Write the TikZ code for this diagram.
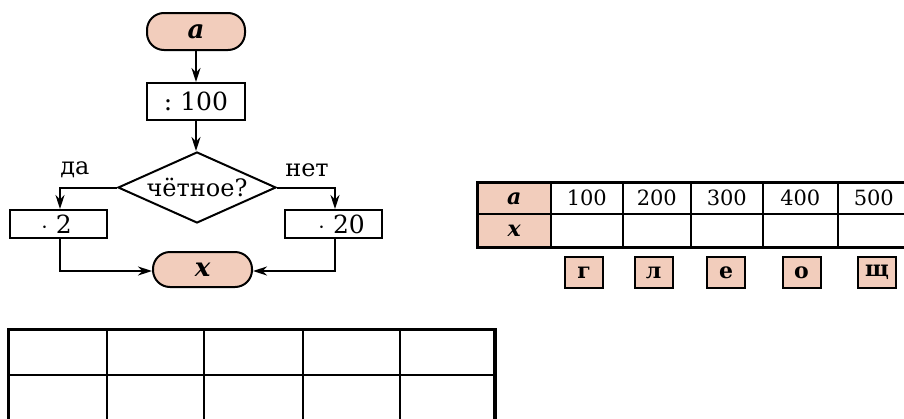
\documentclass[tikz,border=0pt]{standalone}
\usepackage{fontspec}
\setmainfont{DejaVu Serif}
\usetikzlibrary{shapes.geometric,arrows.meta}
\definecolor{pinkf}{HTML}{F2CDBC}
\tikzset{
  term/.style={draw, line width=2pt, fill=pinkf, rounded corners=17pt, inner sep=0pt, font=\fontsize{26}{28}\selectfont\bfseries\itshape},
  proc/.style={draw, line width=2pt, fill=white, inner sep=0pt, font=\fontsize{25}{28}\selectfont},
  dec/.style={draw, diamond, line width=2pt, inner sep=0pt, minimum width=158pt, minimum height=71pt, font=\fontsize{24}{26}\selectfont},
  lbl/.style={font=\fontsize{24}{26}\selectfont, inner sep=0pt},
  flow/.style={line width=2pt, -{Stealth[length=14pt,width=9pt]}},
  cell/.style={draw, line width=1.6pt, inner sep=0pt, anchor=north west, font=\fontsize{21}{22}\selectfont},
  hcell/.style={cell, fill=pinkf, font=\fontsize{22}{22}\selectfont\bfseries\itshape},
  letter/.style={draw, line width=2pt, fill=pinkf, inner sep=0pt, minimum width=38pt, minimum height=31pt, font=\fontsize{22}{22}\selectfont\bfseries},
  bcell/.style={draw, line width=2.2pt, inner sep=0pt, anchor=north west},
}
\begin{document}
\begin{tikzpicture}[x=1pt,y=-1pt]
\useasboundingbox (0,0) rectangle (904,418);
\clip (0,0) rectangle (904,418);
% flowchart
\node[term, minimum width=98pt, minimum height=37pt] (a) at (196,31.5) {a};
\node[proc, minimum width=98pt, minimum height=37pt] (div) at (196,101.5) {:~100};
\node[dec] (dec) at (197,187.5) {\makebox[0pt]{\raisebox{-9pt}[0pt][0pt]{чётное?}}};
\node[proc, minimum width=97pt, minimum height=28pt] (m2) at (58.5,224) {\hspace{-4pt}$\cdot$~2};
\node[proc, minimum width=97pt, minimum height=28pt] (m20) at (333.5,224) {\hspace{16pt}$\cdot$~20};
\node[term, minimum width=99pt, minimum height=35pt] (x) at (202.5,269.5) {x};
\node[lbl] (da) at (75,170) {да};
\node[lbl] (net) at (307,170) {нет};
\draw[flow] (a) -- (div);
\draw[flow] (div.south) -- (div.south |- dec.north);
\draw[flow] (dec.west) -| ([xshift=1.5pt]m2.north);
\draw[flow] (dec.east) -| ([xshift=1.5pt]m20.north);
\draw[flow] ([xshift=1.5pt]m2.south) |- ([yshift=-1.5pt]x.west);
\draw[flow] ([xshift=1.5pt]m20.south) |- ([yshift=-1.5pt]x.east);
% right table
\node[hcell, minimum width=73pt, minimum height=31pt] (ta) at (477,182) {a};
\node[hcell, minimum width=73pt, minimum height=33pt] (tx) at (477,213) {x};
\node[cell, minimum width=72pt, minimum height=31pt] (t1) at (550,182) {100};
\node[cell, minimum width=68pt, minimum height=31pt] (t2) at (622,182) {200};
\node[cell, minimum width=72pt, minimum height=31pt] (t3) at (690,182) {300};
\node[cell, minimum width=75pt, minimum height=31pt] (t4) at (762,182) {400};
\node[cell, minimum width=72pt, minimum height=31pt] (t5) at (837,182) {500};
\node[cell, minimum width=72pt, minimum height=33pt] (u1) at (550,213) {};
\node[cell, minimum width=68pt, minimum height=33pt] (u2) at (622,213) {};
\node[cell, minimum width=72pt, minimum height=33pt] (u3) at (690,213) {};
\node[cell, minimum width=75pt, minimum height=33pt] (u4) at (762,213) {};
\node[cell, minimum width=72pt, minimum height=33pt] (u5) at (837,213) {};
\draw[line width=2.6pt] (ta.north west) rectangle (u5.south east);
% letters
\node[letter] (lg) at (584,272.5) {г};
\node[letter] (ll) at (653.5,272.5) {л};
\node[letter] (le) at (726,272.5) {е};
\node[letter] (lo) at (801.5,272.5) {о};
\node[letter] (lsh) at (877,272.5) {щ};
% bottom table
\node[bcell, minimum width=98pt, minimum height=45pt] (b1) at (8,329) {};
\node[bcell, minimum width=97pt, minimum height=45pt] (b2) at (106,329) {};
\node[bcell, minimum width=99pt, minimum height=45pt] (b3) at (203,329) {};
\node[bcell, minimum width=97pt, minimum height=45pt] (b4) at (302,329) {};
\node[bcell, minimum width=94pt, minimum height=45pt] (b5) at (399,329) {};
\node[bcell, minimum width=98pt, minimum height=50pt] (c1) at (8,374) {};
\node[bcell, minimum width=97pt, minimum height=50pt] (c2) at (106,374) {};
\node[bcell, minimum width=99pt, minimum height=50pt] (c3) at (203,374) {};
\node[bcell, minimum width=97pt, minimum height=50pt] (c4) at (302,374) {};
\node[bcell, minimum width=94pt, minimum height=50pt] (c5) at (399,374) {};
\draw[line width=3pt] (b1.north west) rectangle (c5.south east);
\end{tikzpicture}
\end{document}
